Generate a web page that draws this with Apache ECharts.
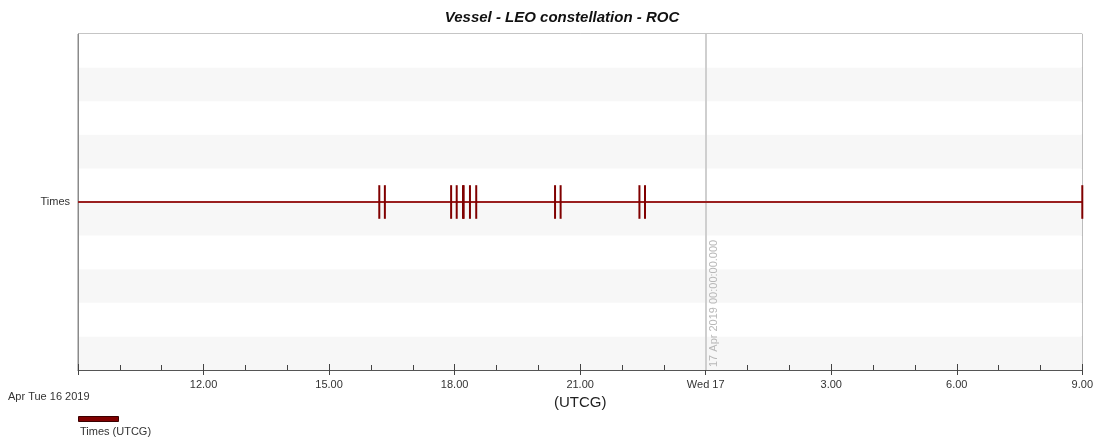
<!DOCTYPE html>
<html>
<head>
<meta charset="utf-8">
<script src="https://cdn.jsdelivr.net/npm/echarts@6/dist/echarts.min.js"></script>
<style>
  html, body { margin: 0; padding: 0; background: #fff; overflow: hidden; }
  #chart { width: 1096px; height: 438px; }
</style>
</head>
<body>
<div id="chart"></div>
<script>
// Report window: Apr 16 2019 09:00 to Apr 17 2019 09:00 (UTCG), in hours from Apr 16 00:00
const windowStart = 9;
const windowEnd = 33;
const tickStepHours = 3;

// Access start/stop times (UTCG)
const accessTimes = [
  '2019-04-16 16:12', '2019-04-16 16:20',
  '2019-04-16 17:55', '2019-04-16 18:03',
  '2019-04-16 18:12', '2019-04-16 18:13',
  '2019-04-16 18:22', '2019-04-16 18:31',
  '2019-04-16 20:24', '2019-04-16 20:32',
  '2019-04-16 22:25', '2019-04-16 22:33',
  '2019-04-17 09:00'
];

const rowLabels = ['Times'];
const dayLabel = 'Apr Tue 16 2019';
const midnightLabel = '17 Apr 2019 00:00:00.000';
const midnightHour = 24;

function toHours(s) {
  const day = parseInt(s.slice(8, 10), 10) - 16;
  const hh = parseInt(s.slice(11, 13), 10);
  const mm = parseInt(s.slice(14, 16), 10);
  return day * 24 + hh + mm / 60;
}

const eventData = accessTimes.map(t => [toHours(t), 0]);
const FONT = '"Liberation Sans", Arial, sans-serif';
const RED = '#800000';

const chart = echarts.init(document.getElementById('chart'), null, {
  renderer: 'canvas', width: 1096, height: 438
});

function tickLabel(v) {
  const h = ((v % 24) + 24) % 24;
  if (h === 0) return 'Wed 17';
  return h + '.00';
}

chart.setOption({
  animation: false,
  textStyle: { fontFamily: FONT },
  grid: {
    left: 78, right: 11, top: 34, bottom: 68,
    show: true, borderColor: '#8a8a8a', borderWidth: 1, backgroundColor: 'transparent'
  },
  xAxis: [
    {
      type: 'value', min: windowStart, max: windowEnd, interval: tickStepHours,
      name: '(UTCG)', nameLocation: 'middle', nameGap: 23,
      nameTextStyle: { fontSize: 15, color: '#222', fontFamily: FONT },
      axisLine: { show: true, onZero: false, lineStyle: { color: '#555', width: 1 } },
      axisTick: { show: true, inside: true, length: 6, lineStyle: { color: '#444' } },
      minorTick: { show: true, splitNumber: 3, length: 5, lineStyle: { color: '#444' } },
      axisLabel: {
        showMinLabel: false, fontSize: 11, color: '#333', margin: 9,
        formatter: tickLabel
      },
      splitLine: { show: false }
    },
    {
      type: 'value', min: windowStart, max: windowEnd, interval: tickStepHours,
      position: 'bottom',
      axisLine: { show: false, onZero: false },
      axisTick: { show: true, inside: false, length: 5, lineStyle: { color: '#444' } },
      axisLabel: { show: false },
      splitLine: { show: false }
    }
  ],
  yAxis: {
    type: 'value', min: -5, max: 5, interval: 1,
    axisLine: { show: true, onZero: false, lineStyle: { color: '#8a8a8a' } },
    axisTick: { show: false },
    axisLabel: {
      fontSize: 11, color: '#333', margin: 8,
      formatter: v => (v === 0 ? rowLabels[0] : '')
    },
    splitLine: { show: false },
    splitArea: { show: true, areaStyle: { color: ['#f7f7f7', '#ffffff'] } }
  },
  series: [
    {
      name: rowLabels[0],
      type: 'line',
      data: [[windowStart, 0], [windowEnd, 0]],
      symbol: 'none',
      lineStyle: { color: '#9a2020', width: 2 },
      z: 3,
      markLine: {
        silent: true,
        symbol: ['none', 'none'],
        lineStyle: { color: '#cfcfcf', width: 2, type: 'solid' },
        label: {
          show: true,
          position: 'insideStartBottom',
          formatter: midnightLabel,
          color: '#b8b8b8',
          fontSize: 11,
          fontFamily: FONT,
          distance: 3
        },
        data: [{ xAxis: midnightHour }],
        z: 1
      }
    },
    {
      name: 'Access',
      type: 'custom',
      data: eventData,
      z: 5,
      renderItem: function (params, api) {
        const t = api.value(0);
        const top = api.coord([t, 0.5]);
        const bot = api.coord([t, -0.5]);
        return {
          type: 'line',
          shape: { x1: top[0], y1: top[1], x2: bot[0], y2: bot[1] },
          style: { stroke: RED, lineWidth: 2 }
        };
      }
    }
  ],
  graphic: [
    {
      type: 'text', x: 562, y: 10,
      style: {
        text: 'Vessel - LEO constellation - ROC',
        font: 'italic bold 15px ' + FONT,
        fill: '#111', align: 'center', textAlign: 'center'
      }
    },
    {
      type: 'text', left: 8, top: 391,
      style: { text: dayLabel, font: '11px ' + FONT, fill: '#333' }
    },
    {
      type: 'rect', left: 78, top: 416,
      shape: { width: 40, height: 5 },
      style: { fill: RED, stroke: '#3a0000', lineWidth: 1 }
    },
    {
      type: 'text', left: 80, top: 426,
      style: { text: 'Times (UTCG)', font: '11px ' + FONT, fill: '#333' }
    }
  ]
});
</script>
</body>
</html>
